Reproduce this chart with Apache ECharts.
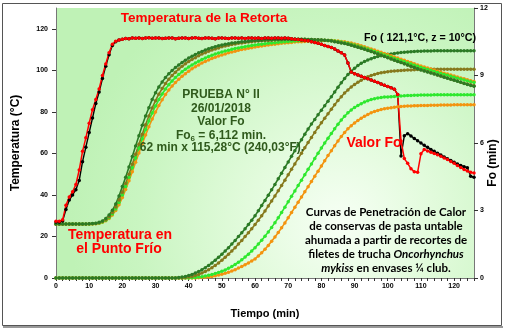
<!DOCTYPE html>
<html>
<head>
<meta charset="utf-8">
<script src="https://cdn.jsdelivr.net/npm/echarts@6/dist/echarts.min.js"></script>
<style>
html,body{margin:0;padding:0;background:#fff;}
#chart{width:505px;height:329px;}
</style>
</head>
<body>
<div id="chart"></div>
<script>
// Sampling times (min)
const minutes = [
0,1,2,3,4,5,6,7,8,9,10,11,12,13,14,15,16,17,18,19,20,21,22,23,24,25,26,27,28,29,
30,31,32,33,34,35,36,37,38,39,40,41,42,43,44,45,46,47,48,49,50,51,52,53,54,55,56,57,58,59,
60,61,62,63,64,65,66,67,68,69,70,71,72,73,74,75,76,77,78,79,80,81,82,83,84,85,86,87,88,89,
90,91,92,93,94,95,96,97,98,99,100,101,102,103,104,105,106,107,108,109,110,111,112,113,114,115,116,117,118,119,
120,121,122,123,124,125,126];

// Retort temperature (°C), two sensors
const retortRed = [
27.3,27.3,28,35,39,41.5,45,52,61,67.5,
74.5,81,86,91,97.5,103,108.5,112.5,114,114.6,
115,115.3,115.2,115.5,115.4,115.6,115.3,115.5,115.7,115.4,
115.5,115.6,115.3,115.4,115.6,115.5,115.2,115.4,115.6,115.5,
115.3,115.5,115.7,115.4,115.3,115.6,115.5,115.4,115.2,115.5,
115.6,115.4,115.3,115.5,115.6,115.4,115.5,115.3,115.6,115.5,
115.4,115.5,115.3,115.6,115.5,115.4,115.5,115.6,115.4,115.5,
115.4,115.2,115.0,114.8,114.6,114.4,114.2,113.8,113.4,113.0,
112.5,112.0,111.5,111.0,110.2,109.3,108.4,107.4,103.5,99.2,
98.4,97.8,97.1,96.5,95.9,95.3,94.7,94.1,93.4,92.8,
92.2,91.6,90.9,88.3,66.0,57.5,55.2,52.6,51.2,50.9,
59.8,61.9,61.2,60.5,59.9,59.3,58.6,57.8,57.0,56.1,
55.2,54.2,53.2,52.3,51.5,50.9,50.5];

const retortBlack = [
27,27,27.5,33,37.5,40,42.5,47,56,63,
70,77,84,89.5,96,102,107.5,112,113.8,114.6,
115,115.3,115.2,115.5,115.4,115.6,115.3,115.5,115.7,115.4,
115.5,115.6,115.3,115.4,115.6,115.5,115.2,115.4,115.6,115.5,
115.3,115.5,115.7,115.4,115.3,115.6,115.5,115.4,115.2,115.5,
115.6,115.4,115.3,115.5,115.6,115.4,115.5,115.3,115.6,115.5,
115.4,115.5,115.3,115.6,115.5,115.4,115.5,115.6,115.4,115.5,
115.4,115.2,115.0,114.8,114.6,114.4,114.2,113.8,113.4,113.0,
112.5,112.0,111.5,111.0,110.2,109.3,108.4,107.4,103.5,99.2,
98.4,97.8,97.1,96.5,95.9,95.3,94.7,94.1,93.4,92.8,
92.2,91.6,90.9,88.3,58.7,68.5,69.5,68.4,67.2,66.1,
65,63.9,62.9,61.9,61,60.1,59.2,58.3,57.4,56.6,
55.7,54.9,54.2,53.6,53.1,49,48.5];

// Cold-point temperature (°C), four containers
const coldDarkGreen = [
26,26,26,26,26,26,26,26,26,26,
26.1,26.2,26.4,26.8,27.5,28.6,30.3,32.6,35.6,39.5,
44,48.5,53.5,58.5,63.5,68.5,73.5,78,82,86,
89.2,92,94.4,96.5,98.3,99.9,101.3,102.6,103.8,104.9,
105.9,106.8,107.6,108.4,109.1,109.8,110.4,110.9,111.4,111.8,
112.2,112.5,112.8,113.1,113.3,113.5,113.7,113.9,114,114.2,
114.3,114.4,114.5,114.6,114.7,114.7,114.8,114.8,114.9,114.9,
115,115,115,115,114.9,114.9,114.8,114.8,114.7,114.7,
114.6,114.5,114.3,114.1,113.8,113.5,113.2,112.9,112.6,112.1,
111.6,111.1,110.6,110.1,109.5,109,108.4,107.8,107.3,106.7,
106.1,105.5,104.9,104.3,103.7,103.1,102.5,101.9,101.4,100.8,
100.2,99.7,99.2,98.7,98.2,97.7,97.2,96.7,96.2,95.7,
95.2,94.7,94.2,93.7,93.2,92.7,92.3];

const coldOlive = [
26,26,26,26,26,26,26,26,26,26,
26.1,26.1,26.3,26.6,27.2,28.1,29.5,31.5,34.2,37.5,
41.3,45.5,50,54.8,59.6,64.4,69.2,73.8,78,81.9,
85.4,88.5,91.2,93.6,95.7,97.5,99.1,100.6,101.9,103.1,
104.2,105.2,106.1,107,107.8,108.5,109.2,109.8,110.3,110.8,
111.3,111.7,112.1,112.4,112.7,113,113.2,113.4,113.6,113.8,
114,114.1,114.2,114.3,114.4,114.5,114.6,114.7,114.7,114.8,
114.8,114.9,114.9,114.9,114.9,114.9,114.8,114.8,114.7,114.7,
114.6,114.5,114.4,114.2,113.9,113.6,113.3,113,112.6,112.2,
111.7,111.2,110.7,110.2,109.6,109.1,108.5,107.9,107.4,106.8,
106.2,105.6,105,104.4,103.8,103.2,102.6,102,101.5,100.9,
100.3,99.8,99.3,98.8,98.3,97.8,97.3,96.8,96.3,95.8,
95.3,94.8,94.3,93.8,93.4,93,92.6];

const coldBrightGreen = [
26,26,26,26,26,26,26,26,26,26,
26,26.1,26.2,26.5,27,27.8,29,30.8,33.2,36.3,
40,44.1,48.5,53.1,57.8,62.5,67.1,71.5,75.6,79.4,
82.8,85.9,88.6,91,93.1,94.9,96.5,98,99.3,100.5,
101.6,102.6,103.5,104.4,105.2,105.9,106.6,107.2,107.8,108.3,
108.8,109.3,109.7,110.1,110.5,110.8,111.1,111.4,111.7,111.9,
112.2,112.4,112.6,112.8,113,113.2,113.3,113.5,113.6,113.7,
113.9,114,114.1,114.2,114.3,114.4,114.4,114.5,114.5,114.5,
114.5,114.5,114.4,114.3,114.1,113.9,113.6,113.3,113,112.6,
112.2,111.7,111.2,110.7,110.2,109.7,109.1,108.6,108,107.4,
106.9,106.3,105.7,105.2,104.6,104.1,103.5,103,102.4,101.9,
101.4,100.9,100.4,99.9,99.4,99,98.5,98,97.6,97.1,
96.7,96.2,95.8,95.3,94.9,94.5,94.1];

const coldOrange = [
25.9,25.9,25.9,25.9,25.9,25.9,25.9,25.9,25.9,25.9,
25.9,26,26.1,26.4,26.9,27.6,28.7,30.3,32.5,35.3,
38.7,42.6,46.8,51.2,55.7,60.2,64.6,68.8,72.8,76.5,
79.9,83,85.8,88.3,90.5,92.4,94.1,95.7,97.1,98.4,
99.6,100.7,101.7,102.6,103.5,104.3,105,105.7,106.3,106.9,
107.4,107.9,108.4,108.8,109.2,109.6,110,110.3,110.6,110.9,
111.2,111.5,111.7,112,112.2,112.4,112.6,112.8,113,113.1,
113.3,113.4,113.6,113.7,113.8,113.9,114,114.1,114.2,114.2,
114.3,114.3,114.3,114.3,114.2,114.1,113.9,113.7,113.4,113.1,
112.7,112.3,111.8,111.3,110.8,110.3,109.8,109.2,108.7,108.1,
107.6,107,106.4,105.9,105.3,104.8,104.2,103.7,103.1,102.6,
102.1,101.6,101.1,100.6,100.1,99.6,99.1,98.6,98.2,97.7,
97.2,96.8,96.3,95.9,95.4,95,94.6];

// Accumulated lethality Fo (min), four containers
const foDarkGreen = [
0,0,0,0,0,0,0,0,0,0,
0,0,0,0,0,0,0,0,0,0,
0,0,0,0,0,0,0,0,0,0,
0,0,0,0,0,0,0,0.02,0.04,0.07,
0.11,0.16,0.22,0.29,0.37,0.46,0.56,0.67,0.79,0.92,
1.06,1.2,1.35,1.51,1.67,1.84,2.01,2.19,2.38,2.57,
2.77,2.99,3.22,3.45,3.68,3.92,4.16,4.41,4.66,4.91,
5.16,5.41,5.66,5.91,6.15,6.39,6.62,6.84,7.05,7.26,
7.46,7.66,7.86,8.06,8.27,8.48,8.68,8.87,9.04,9.19,
9.32,9.44,9.54,9.62,9.69,9.75,9.8,9.84,9.88,9.91,
9.94,9.96,9.98,10,10.02,10.03,10.05,10.06,10.07,10.08,
10.08,10.09,10.09,10.09,10.1,10.1,10.1,10.1,10.1,10.1,
10.1,10.1,10.1,10.1,10.1,10.1,10.1];

const foOlive = [
0,0,0,0,0,0,0,0,0,0,
0,0,0,0,0,0,0,0,0,0,
0,0,0,0,0,0,0,0,0,0,
0,0,0,0,0,0,0,0,0,0.02,
0.04,0.07,0.11,0.16,0.22,0.29,0.37,0.46,0.56,0.67,
0.79,0.92,1.06,1.2,1.35,1.51,1.67,1.84,2.01,2.19,
2.38,2.57,2.77,2.98,3.2,3.42,3.65,3.88,4.11,4.35,
4.59,4.83,5.07,5.31,5.55,5.79,6.02,6.25,6.47,6.69,
6.9,7.1,7.3,7.5,7.7,7.89,8.06,8.22,8.36,8.49,
8.6,8.7,8.79,8.87,8.94,9,9.05,9.09,9.12,9.15,
9.17,9.19,9.2,9.21,9.22,9.23,9.24,9.25,9.26,9.27,
9.28,9.28,9.28,9.28,9.28,9.28,9.28,9.28,9.28,9.28,
9.28,9.28,9.28,9.28,9.28,9.28,9.28];

const foBrightGreen = [
0,0,0,0,0,0,0,0,0,0,
0,0,0,0,0,0,0,0,0,0,
0,0,0,0,0,0,0,0,0,0,
0,0,0,0,0,0,0,0,0,0,
0,0.01,0.02,0.04,0.06,0.09,0.12,0.16,0.2,0.25,
0.3,0.36,0.43,0.51,0.6,0.7,0.81,0.93,1.06,1.2,
1.35,1.51,1.68,1.86,2.05,2.25,2.46,2.68,2.91,3.15,
3.39,3.63,3.87,4.11,4.35,4.59,4.83,5.07,5.31,5.55,
5.78,6,6.21,6.42,6.63,6.83,7.02,7.19,7.34,7.47,
7.58,7.67,7.75,7.82,7.88,7.93,7.97,8,8.02,8.04,
8.05,8.06,8.07,8.08,8.09,8.1,8.11,8.11,8.12,8.12,
8.13,8.13,8.13,8.13,8.14,8.14,8.14,8.14,8.14,8.14,
8.14,8.14,8.14,8.14,8.14,8.14,8.14];

const foOrange = [
0,0,0,0,0,0,0,0,0,0,
0,0,0,0,0,0,0,0,0,0,
0,0,0,0,0,0,0,0,0,0,
0,0,0,0,0,0,0,0,0,0,
0,0,0,0.01,0.02,0.03,0.05,0.07,0.1,0.13,
0.17,0.21,0.26,0.31,0.37,0.44,0.51,0.59,0.67,0.76,
0.85,0.98,1.12,1.28,1.45,1.63,1.82,2.02,2.23,2.45,
2.68,2.91,3.14,3.37,3.6,3.83,4.06,4.29,4.52,4.75,
4.98,5.21,5.44,5.66,5.88,6.09,6.29,6.47,6.63,6.77,
6.89,7,7.1,7.19,7.27,7.34,7.4,7.45,7.49,7.52,
7.55,7.57,7.59,7.61,7.62,7.63,7.64,7.65,7.66,7.66,
7.67,7.67,7.67,7.68,7.68,7.68,7.69,7.69,7.69,7.69,
7.7,7.7,7.7,7.7,7.7,7.7,7.7];

const tempTicks = { min: 0, max: 130, step: 20 };
const foTicks = { min: 0, max: 12, step: 3 };
const timeTicks = { min: 0, max: 126, step: 10 };

const C = {
  red: '#ff0000', black: '#000000',
  dark: '#2b7a25', olive: '#86791c', bright: '#2ee82e', orange: '#f3940f',
  note: '#2f5a1c'
};

const pairs = arr => minutes.map((t, i) => [t, arr[i]]);

function curve(name, arr, color, axis, size, width) {
  return {
    name, type: 'line', yAxisIndex: axis, data: pairs(arr),
    symbol: 'circle', symbolSize: size, showSymbol: true,
    lineStyle: { color, width },
    itemStyle: { color },
    emphasis: { disabled: true },
    animation: false, silent: true, z: 3
  };
}

const axisFont = { fontFamily: 'Liberation Sans', fontWeight: 'bold', fontSize: 7, color: '#000' };
const AF = 'Liberation Sans';

// Centered label drawn above the plot
function label(x, y, text, fill, font) {
  return { type: 'text', x, y, z: 10,
    style: { text, fill, font, align: 'center', verticalAlign: 'middle' } };
}

const chart = echarts.init(document.getElementById('chart'), null, { renderer: 'canvas' });

chart.setOption({
  backgroundColor: '#ffffff',
  animation: false,
  grid: {
    left: 56, right: 31, top: 8, bottom: 51, show: true, borderWidth: 0,
    backgroundColor: new echarts.graphic.RadialGradient(0.68, 0.8, 1.0, [
      { offset: 0, color: '#f7fff5' },
      { offset: 0.35, color: '#e2fbdc' },
      { offset: 0.75, color: '#c9f5c1' },
      { offset: 1, color: '#bff2b6' }
    ])
  },
  xAxis: {
    type: 'value', min: timeTicks.min, max: timeTicks.max, interval: timeTicks.step,
    axisLine: { show: true, lineStyle: { color: '#777', width: 1 } },
    axisTick: { show: true, length: 3, lineStyle: { color: '#333' } },
    minorTick: { show: true, splitNumber: 5, length: 3, lineStyle: { color: '#333' } },
    splitLine: { show: false },
    axisLabel: Object.assign({ margin: 5, showMaxLabel: false }, axisFont),
    name: 'Tiempo (min)', nameLocation: 'middle', nameGap: 30,
    nameTextStyle: { fontFamily: AF, fontWeight: 'bold', fontSize: 11, color: '#000' }
  },
  yAxis: [{
    type: 'value', min: tempTicks.min, max: tempTicks.max, interval: tempTicks.step,
    axisLine: { show: true, lineStyle: { color: '#777', width: 1 } },
    axisTick: { show: true, length: 4, lineStyle: { color: '#333' } },
    splitLine: { show: false },
    axisLabel: Object.assign({ margin: 8, showMaxLabel: false }, axisFont),
    name: 'Temperatura (°C)', nameLocation: 'middle', nameGap: 34, nameRotate: 90,
    nameTextStyle: { fontFamily: AF, fontWeight: 'bold', fontSize: 12, color: '#000' }
  }, {
    type: 'value', position: 'right', min: foTicks.min, max: foTicks.max, interval: foTicks.step,
    axisLine: { show: true, lineStyle: { color: '#777', width: 1 } },
    axisTick: { show: true, length: 4, lineStyle: { color: '#333' } },
    splitLine: { show: false },
    axisLabel: Object.assign({ margin: 6 }, axisFont)
  }],
  series: [
    curve('Fo naranja', foOrange, C.orange, 1, 3.5, 1.6),
    curve('Fo verde claro', foBrightGreen, C.bright, 1, 3.5, 1.6),
    curve('Fo oliva', foOlive, C.olive, 1, 3.5, 1.6),
    curve('Fo verde oscuro', foDarkGreen, C.dark, 1, 3.5, 1.6),
    curve('T naranja', coldOrange, C.orange, 0, 3.5, 1.6),
    curve('T verde claro', coldBrightGreen, C.bright, 0, 3.5, 1.6),
    curve('T oliva', coldOlive, C.olive, 0, 3.5, 1.6),
    curve('T verde oscuro', coldDarkGreen, C.dark, 0, 3.5, 1.6),
    curve('Retorta 2', retortBlack, C.black, 0, 3.5, 1.4),
    curve('Retorta 1', retortRed, C.red, 0, 3.5, 1.5)
  ],
  graphic: [
    { type: 'rect', z: -10, shape: { x: 2.5, y: 3.5, width: 499, height: 322 },
      style: { fill: 'none', stroke: '#555', lineWidth: 1 } },
    { type: 'line', z: -10, shape: { x1: 3, y1: 327, x2: 503, y2: 327 },
      style: { stroke: '#999', lineWidth: 2 } },
    { type: 'text', x: 493, y: 163, rotation: Math.PI / 2, z: 10,
      style: { text: 'Fo (min)', fill: '#000', font: 'bold 12px "Liberation Sans"', align: 'center', verticalAlign: 'middle' } },
    label(204, 18, 'Temperatura de la Retorta', C.red, 'bold 13.5px "Liberation Sans"'),
    label(120, 235, 'Temperatura en', C.red, 'bold 14px "Liberation Sans"'),
    label(119, 249, 'el Punto Frío', C.red, 'bold 14px "Liberation Sans"'),
    label(374, 143, 'Valor Fo', C.red, 'bold 14px "Liberation Sans"'),
    label(420, 38.5, 'Fo ( 121,1°C, z = 10°C)', '#000', 'bold 10.7px "Liberation Sans"'),
    label(221, 95, 'PRUEBA N° II', C.note, 'bold 12px "Liberation Sans"'),
    label(221, 109, '26/01/2018', C.note, 'bold 12px "Liberation Sans"'),
    label(221, 122, 'Valor Fo', C.note, 'bold 12px "Liberation Sans"'),
    { type: 'text', x: 221, y: 136, z: 10,
      style: { text: '{b|Fo}{s|6}{b| = 6,112 min.}', align: 'center', verticalAlign: 'middle',
        rich: {
          b: { fill: C.note, font: 'bold 12px "Liberation Sans"', lineHeight: 14 },
          s: { fill: C.note, font: 'bold 8px "Liberation Sans"', lineHeight: 10, verticalAlign: 'bottom' }
        } } },
    label(222, 148, '62 min x 115,28°C (240,03°F).', C.note, 'bold 12px "Liberation Sans"'),
    label(386, 212, 'Curvas de Penetración de Calor', '#000', 'bold 11.5px Lato'),
    label(386, 226, 'de conservas de pasta untable', '#000', 'bold 11.5px Lato'),
    label(386, 240, 'ahumada a partir de recortes de', '#000', 'bold 11.5px Lato'),
    { type: 'text', x: 386, y: 254, z: 10,
      style: { text: '{n|filetes de trucha }{i|Oncorhynchus}', align: 'center', verticalAlign: 'middle',
        rich: {
          n: { fill: '#000', font: 'bold 11.5px Lato' },
          i: { fill: '#000', font: 'italic bold 11.5px Lato' }
        } } },
    { type: 'text', x: 386, y: 268, z: 10,
      style: { text: '{i|mykiss}{n| en envases ¼ club.}', align: 'center', verticalAlign: 'middle',
        rich: {
          n: { fill: '#000', font: 'bold 11.5px Lato' },
          i: { fill: '#000', font: 'italic bold 11.5px Lato' }
        } } }
  ]
});
</script>
</body>
</html>
